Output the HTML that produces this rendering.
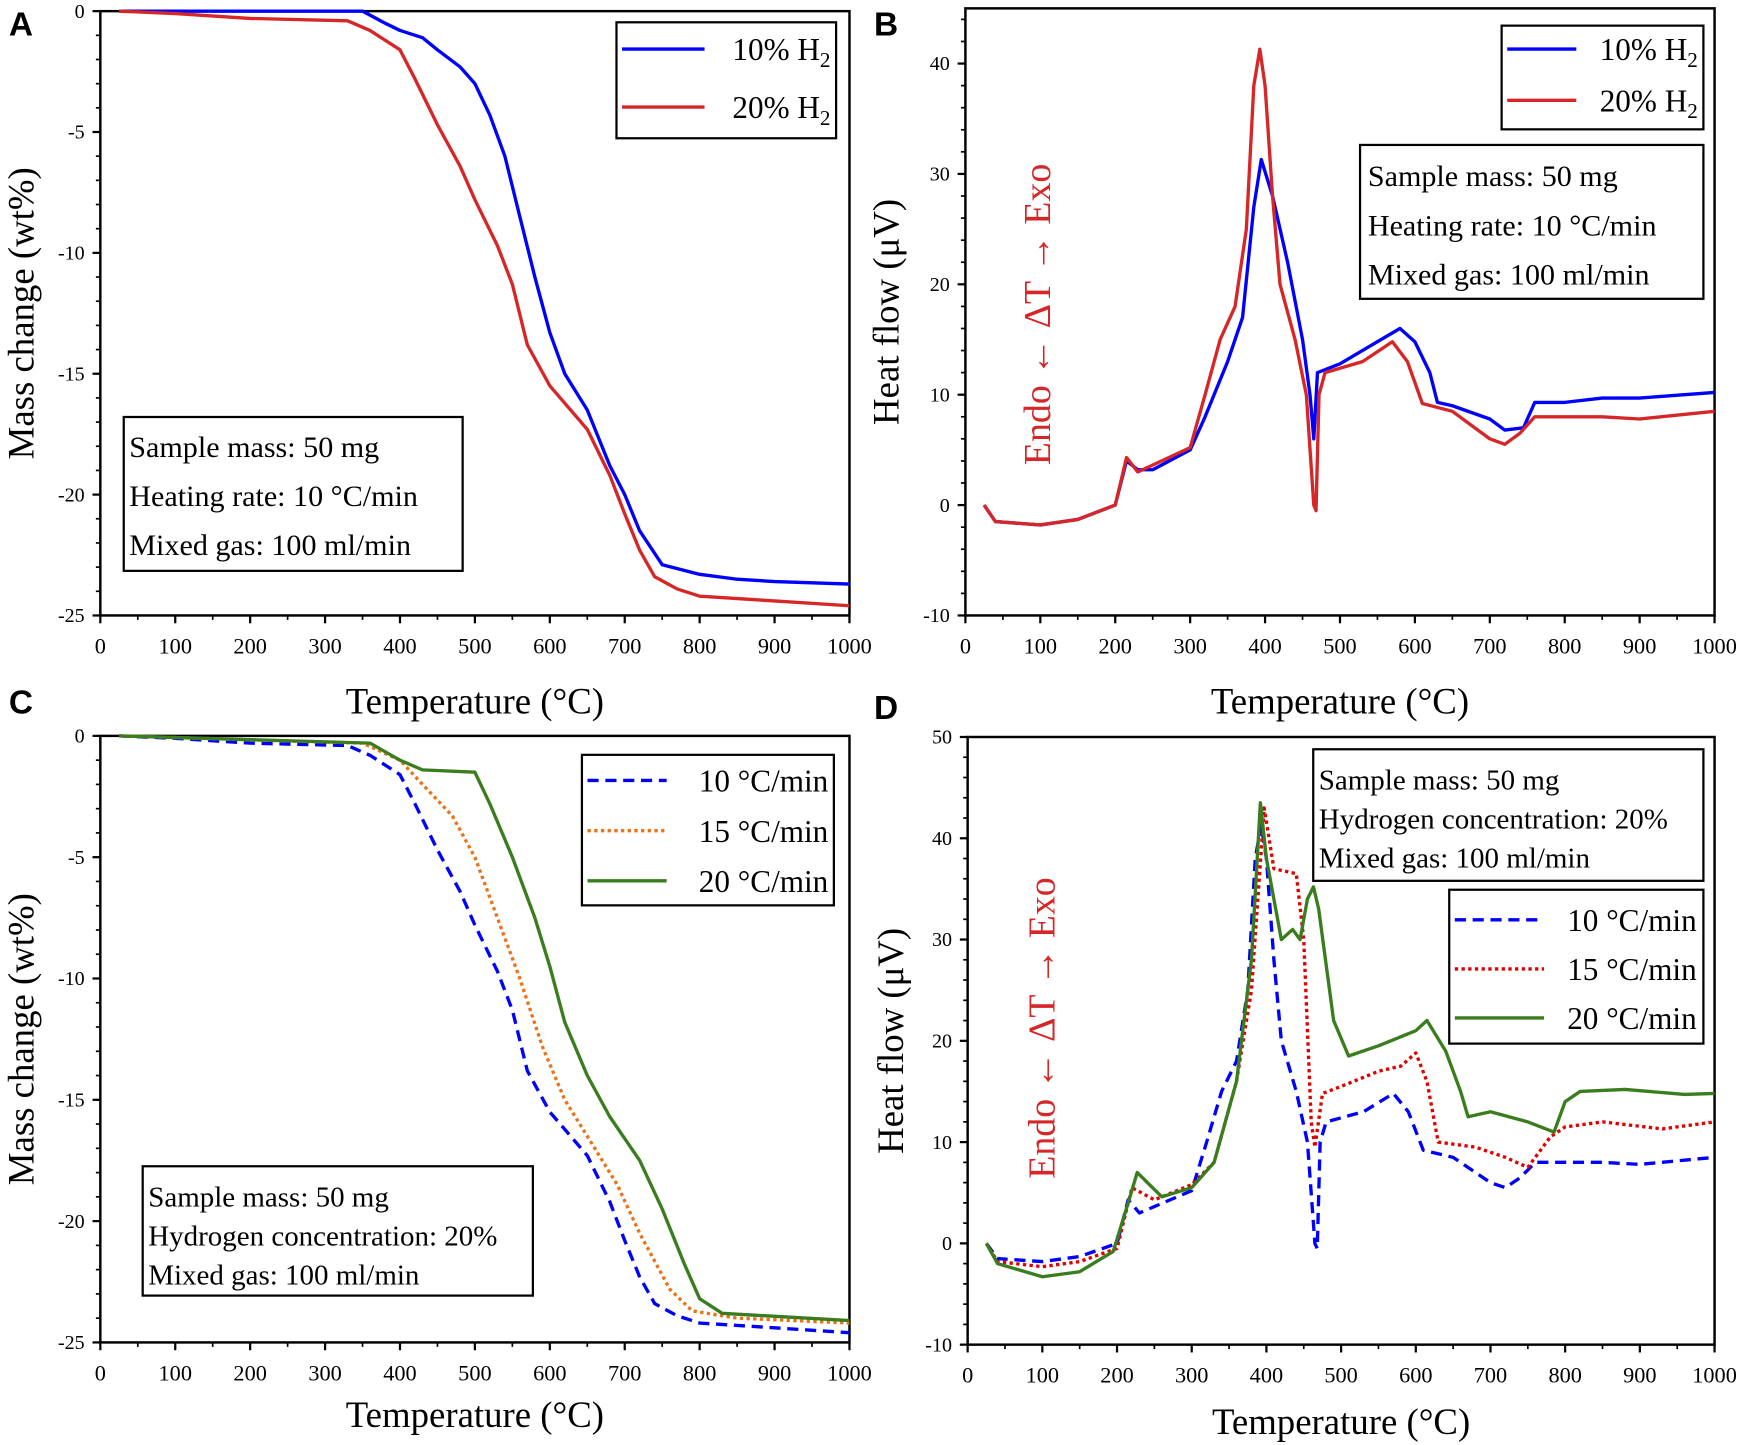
<!DOCTYPE html>
<html><head><meta charset="utf-8"><style>
html,body{margin:0;padding:0;background:#fff}
svg{display:block}
text{font-family:"Liberation Serif",serif}
</style></head><body>
<svg id="fig" width="1748" height="1445" viewBox="0 0 1568 1296" preserveAspectRatio="none" xmlns="http://www.w3.org/2000/svg"></svg>
<script>
// ---- data ----
const xTicks=[0,100,200,300,400,500,600,700,800,900,1000];
const aYTicks=[0,-5,-10,-15,-20,-25];
const bYTicks=[-10,0,10,20,30,40];
const dYTicks=[-10,0,10,20,30,40,50];
const aBlueT=[25,350,380,400,430,450,480,500,520,540,560,580,600,620,650,680,700,720,750,800,850,900,1000];
const aBlueV=[0,0,-0.5,-0.8,-1.1,-1.6,-2.3,-3,-4.3,-6,-8.5,-11,-13.3,-15,-16.5,-18.8,-20,-21.5,-22.9,-23.3,-23.5,-23.6,-23.7];
const aRedT=[25,100,200,330,360,400,420,450,480,500,530,550,570,600,650,680,700,720,740,770,800,900,1000];
const aRedV=[0,-0.1,-0.3,-0.4,-0.8,-1.6,-2.8,-4.7,-6.4,-7.8,-9.7,-11.3,-13.8,-15.5,-17.3,-19.2,-20.8,-22.3,-23.4,-23.9,-24.2,-24.4,-24.6];
const cOrT=[25,350,400,430,470,500,530,560,590,620,650,690,720,760,790,850,1000];
const cOrV=[0,-0.3,-1,-2,-3.3,-5,-7.5,-10,-12.8,-15,-16.5,-18.5,-20.5,-22.8,-23.7,-24,-24.2];
const cGrT=[25,360,400,430,500,520,550,580,600,620,650,680,720,750,780,800,830,1000];
const cGrV=[0,-0.3,-1,-1.4,-1.5,-2.8,-5,-7.5,-9.5,-11.8,-14,-15.7,-17.5,-19.5,-21.8,-23.2,-23.8,-24.1];
const bBlueT=[25,40,100,150,200,215,230,250,300,320,350,370,385,395,410,430,450,460,465,470,500,550,580,600,620,630,650,700,720,745,760,800,850,900,1000];
const bBlueV=[0,-1.5,-1.8,-1.3,0,4,3.2,3.2,5,8,13,17,27,31.3,28,22,15,10,6,12,12.8,14.8,16,14.8,12,9.3,9,7.8,6.8,7,9.3,9.3,9.7,9.7,10.2];
const bRedT=[25,40,100,150,200,215,230,300,320,340,360,375,385,393,400,410,420,440,455,465,468,472,480,530,570,590,610,650,700,720,740,760,850,900,1000];
const bRedV=[0,-1.5,-1.8,-1.3,0,4.3,3,5.2,10,15,18,25,38,41.3,38,28,20,15,10,0,-0.5,10,12,13,14.8,13,9.2,8.5,6,5.5,6.5,8,8,7.8,8.5];
const dRedT=[25,40,100,150,200,220,250,300,330,360,380,397,410,440,450,460,465,475,500,550,580,600,615,630,680,720,750,780,800,850,930,1000];
const dRedV=[0,-1.8,-2.3,-1.8,-0.5,5.5,4.3,5.8,8,16,25,43,37,36.5,30,12,9.5,14.8,15.5,17,17.5,18.8,16,10,9.5,8.5,7.5,10.5,11.5,12,11.3,12];
const dGrT=[25,40,100,150,195,215,227,260,300,330,360,380,392,400,420,435,445,455,463,470,490,510,550,600,615,640,660,670,700,750,785,800,820,880,960,1000];
const dGrV=[0,-2,-3.3,-2.8,-0.8,4,7,4.6,5.5,8,16,28,43.5,38,30,31,30,34,35.2,33,22,18.5,19.5,21,22,19,15,12.5,13,12,11,14,15,15.2,14.7,14.8];

const NS="http://www.w3.org/2000/svg";
const svg=document.getElementById('fig');
function mk(tag,attrs,parent,txt){const e=document.createElementNS(NS,tag);for(const k in attrs)e.setAttribute(k,attrs[k]);if(txt!==undefined)e.textContent=txt;(parent||svg).appendChild(e);return e;}

function panel(p){
  const g=mk('g',{});
  
  
  const sx=v=>p.x0+(v-0)/1000*(p.x1-p.x0);
  const sy=v=>p.y0+(v-p.v0)/(p.v1-p.v0)*(p.y1-p.y0);
  const top=sy(p.vtop);
  const fr=mk('rect',{x:p.x0,y:top,width:p.x1-p.x0,height:p.y1-top,fill:'none',stroke:'#000','stroke-width':2.2},g);
  
  xTicks.forEach(t=>{
    mk('line',{x1:sx(t),x2:sx(t),y1:p.y1,y2:p.y1+7,stroke:'#000','stroke-width':2},g);
    if(t<1000)mk('line',{x1:sx(t+50),x2:sx(t+50),y1:p.y1,y2:p.y1+4,stroke:'#000','stroke-width':1.5},g);
    const tl=mk('text',{x:sx(t),y:p.y1+34,'font-size':20,'text-anchor':'middle'},g,String(t));
    
  });
  p.yt.forEach((t,i)=>{
    mk('line',{x1:p.x0-7,x2:p.x0,y1:sy(t),y2:sy(t),stroke:'#000','stroke-width':2},g);
    const tl=mk('text',{x:p.x0-14,y:sy(t)+6,'font-size':18,'text-anchor':'end'},g,String(t));
    
  });
  for(let v=Math.min(...p.yt);v<=p.vtop;v+=p.minor){mk('line',{x1:p.x0-4,x2:p.x0,y1:sy(v),y2:sy(v),stroke:'#000','stroke-width':1.5},g);}
  p.series.forEach(s=>{
    const d=s.t.map((t,i)=>(i?'L':'M')+sx(t).toFixed(1)+','+sy(s.v[i]).toFixed(1)).join(' ');
    const pl=mk('path',{d:d,fill:'none',stroke:s.c,'stroke-width':3,'stroke-dasharray':s.dash||'','stroke-linejoin':'round'},g);
    
  });
  const xt=mk('text',{x:(p.x0+p.x1)/2,y:p.y1+p.xto,'font-size':33,'text-anchor':'middle'},g,'Temperature (°C)');
  
  const yc=(top+p.y1)/2;
  const yt=mk('text',{x:p.ylx,y:yc,'font-size':33,'text-anchor':'middle',transform:`rotate(-90 ${p.ylx} ${yc})`},g,p.ytitle);
  
  const lt=mk('text',{x:p.lx,y:p.ly,'font-size':30,'font-weight':'bold',style:'font-family:"Liberation Sans",sans-serif'},g,p.letter);
  
  return g;
}
function box(x,y,w,h,name){const r=mk('rect',{x:x,y:y,width:w,height:h,fill:'#fff',stroke:'#000','stroke-width':2});}
function txt(x,y,s,size,name,anchor){const t=mk('text',{x:x,y:y,'font-size':size,'text-anchor':anchor||'start'});t.innerHTML=s;return t;}
function leg(x1,x2,y,c,dash,label,tx,name){const l=mk('line',{x1:x1,x2:x2,y1:y,y2:y,stroke:c,'stroke-width':3,'stroke-dasharray':dash||''});txt(tx,y+10,label,28,name,'end');}
function endoExo(x,y){const t=mk('text',{x:x,y:y,'font-size':34,fill:'#d62728','text-anchor':'middle',transform:`rotate(-90 ${x} ${y})`},svg,'Endo ← ΔT → Exo');}

panel({name:'panel-a',letter:'A',lx:8,ly:32,x0:90,x1:762,y0:10,y1:552,v0:0,v1:-25,vtop:0,yt:aYTicks,minor:1,ytitle:'Mass change (wt%)',ylx:30,xto:88,
  series:[{t:aBlueT,v:aBlueV,c:'#0000ff',name:'line-10pct-h2'},{t:aRedT,v:aRedV,c:'#d62728',name:'line-20pct-h2'}]});
panel({name:'panel-b',letter:'B',lx:784,ly:32,x0:866,x1:1538,y0:57,y1:552,v0:40,v1:-10,vtop:45,yt:bYTicks,minor:2,ytitle:'Heat flow (μV)',ylx:806,xto:88,
  series:[{t:bBlueT,v:bBlueV,c:'#0000ff',name:'line-10pct-h2'},{t:bRedT,v:bRedV,c:'#d62728',name:'line-20pct-h2'}]});
panel({name:'panel-c',letter:'C',lx:8,ly:640,x0:90,x1:762,y0:660,y1:1204,v0:0,v1:-25,vtop:0,yt:aYTicks,minor:1,ytitle:'Mass change (wt%)',ylx:30,xto:76,
  series:[{t:aRedT,v:aRedV,c:'#0000ff',dash:'10,6',name:'line-10c-min'},{t:cOrT,v:cOrV,c:'#e8731a',dash:'3,3',name:'line-15c-min'},{t:cGrT,v:cGrV,c:'#3a7d1e',name:'line-20c-min'}]});
panel({name:'panel-d',letter:'D',lx:784,ly:645,x0:868,x1:1538,y0:661,y1:1206,v0:50,v1:-10,vtop:50,yt:dYTicks,minor:2,ytitle:'Heat flow (μV)',ylx:810,xto:80,
  series:[{t:bRedT,v:bRedV,c:'#0000ff',dash:'10,6',name:'line-10c-min'},{t:dRedT,v:dRedV,c:'#e00000',dash:'3,3',name:'line-15c-min'},{t:dGrT,v:dGrV,c:'#3a7d1e',name:'line-20c-min'}]});

// Panel A annotations
box(553,20,197,104,'legend-a');
leg(558,632,44,'#0000ff','','10% H<tspan font-size="19" dy="6">2</tspan>',745,'legend-entry-10pct');
leg(558,632,96,'#d62728','','20% H<tspan font-size="19" dy="6">2</tspan>',745,'legend-entry-20pct');
box(111,374,304,138,'info-box-a');
txt(116,410,'Sample mass: 50 mg',27,'info-text');txt(116,454,'Heating rate: 10 °C/min',27,'info-text');txt(116,498,'Mixed gas: 100 ml/min',27,'info-text');
// Panel B
box(1347,23,181,93,'legend-b');
leg(1352,1414,44,'#0000ff','','10% H<tspan font-size="19" dy="6">2</tspan>',1523,'legend-entry-10pct');
leg(1352,1414,90,'#d62728','','20% H<tspan font-size="19" dy="6">2</tspan>',1523,'legend-entry-20pct');
box(1220,130,308,138,'info-box-b');
txt(1227,167,'Sample mass: 50 mg',27,'info-text');txt(1227,211,'Heating rate: 10 °C/min',27,'info-text');txt(1227,255,'Mixed gas: 100 ml/min',27,'info-text');
endoExo(942,282);
// Panel C
box(522,677,226,135,'legend-c');
leg(527,598,700,'#0000ff','10,6','10 °C/min',743,'legend-entry-10c');
leg(527,598,745,'#e8731a','3,3','15 °C/min',743,'legend-entry-15c');
leg(527,598,790,'#3a7d1e','','20 °C/min',743,'legend-entry-20c');
box(128,1046,350,116,'info-box-c');
txt(133,1082,'Sample mass: 50 mg',26,'info-text');txt(133,1117,'Hydrogen concentration: 20%',26,'info-text');txt(133,1152,'Mixed gas: 100 ml/min',26,'info-text');
// Panel D
box(1178,672,350,118,'info-box-d');
txt(1183,708,'Sample mass: 50 mg',26,'info-text');txt(1183,743,'Hydrogen concentration: 20%',26,'info-text');txt(1183,778,'Mixed gas: 100 ml/min',26,'info-text');
box(1300,798,228,138,'legend-d');
leg(1305,1385,825,'#0000ff','10,6','10 °C/min',1522,'legend-entry-10c');
leg(1305,1385,869,'#e00000','3,3','15 °C/min',1522,'legend-entry-15c');
leg(1305,1385,913,'#3a7d1e','','20 °C/min',1522,'legend-entry-20c');
endoExo(946,922);
</script>
</body></html>
